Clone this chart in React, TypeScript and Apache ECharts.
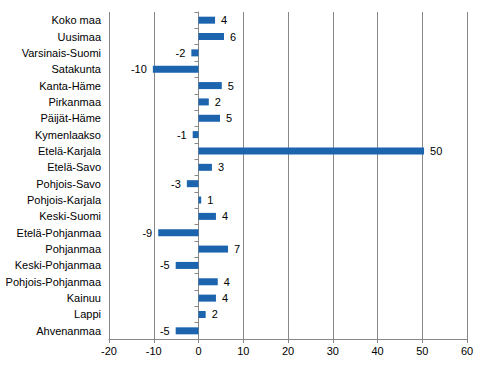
import React, { useEffect, useRef } from "react";
import * as echarts from "echarts";

const regions = [
  "Koko maa", "Uusimaa", "Varsinais-Suomi", "Satakunta", "Kanta-Häme",
  "Pirkanmaa", "Päijät-Häme", "Kymenlaakso", "Etelä-Karjala", "Etelä-Savo",
  "Pohjois-Savo", "Pohjois-Karjala", "Keski-Suomi", "Etelä-Pohjanmaa",
  "Pohjanmaa", "Keski-Pohjanmaa", "Pohjois-Pohjanmaa", "Kainuu", "Lappi",
  "Ahvenanmaa",
];
const values = [
  3.7, 5.7, -1.6, -10.2, 5.2, 2.3, 4.8, -1.3, 50.4, 3.0,
  -2.6, 0.6, 3.9, -9.0, 6.6, -5.1, 4.3, 3.9, 1.6, -5.1,
];
const xTicks = { min: -20, max: 60, interval: 10 };

const FONT = "'Liberation Sans', Arial, sans-serif";
const GRID_COLOR = "#878787";
const BAR_COLOR = "#1c65ae";

export default function App() {
  const ref = useRef<HTMLDivElement>(null);
  useEffect(() => {
    if (!ref.current) return;
    const chart = echarts.init(ref.current, null, { renderer: "svg" });
    chart.setOption({
      animation: false,
      grid: { left: 109, right: 19, top: 12, bottom: 26, containLabel: false },
      xAxis: {
        type: "value",
        min: xTicks.min,
        max: xTicks.max,
        interval: xTicks.interval,
        axisLine: { show: true, onZero: false, lineStyle: { color: GRID_COLOR, width: 1 } },
        axisTick: { show: true, length: 4, lineStyle: { color: GRID_COLOR } },
        splitLine: { show: true, lineStyle: { color: GRID_COLOR, width: 1 } },
        axisLabel: { color: "#000", fontFamily: FONT, fontSize: 11, margin: 6 },
      },
      yAxis: [
        {
          type: "category",
          data: regions,
          inverse: true,
          axisLine: { show: false, onZero: false },
          axisTick: { show: false },
          axisLabel: { color: "#000", fontFamily: FONT, fontSize: 11, margin: 8 },
        },
        {
          type: "category",
          data: regions,
          inverse: true,
          position: "left",
          axisLine: { show: true, onZero: true, lineStyle: { color: GRID_COLOR, width: 1 } },
          axisTick: { show: true, length: 4, lineStyle: { color: GRID_COLOR } },
          axisLabel: { show: false },
        },
      ],
      series: [
        {
          type: "bar",
          yAxisIndex: 0,
          barWidth: 7,
          itemStyle: { color: BAR_COLOR },
          data: values.map((v) => ({
            value: v,
            label: {
              show: true,
              position: v < 0 ? "left" : "right",
              distance: 6,
              color: "#000",
              fontFamily: FONT,
              fontSize: 11,
              formatter: () => String(Math.round(v)),
            },
          })),
        },
      ],
    });
    return () => chart.dispose();
  }, []);
  return <div ref={ref} style={{ width: 486, height: 365, position: "absolute", left: 0, top: 0 }} />;
}
